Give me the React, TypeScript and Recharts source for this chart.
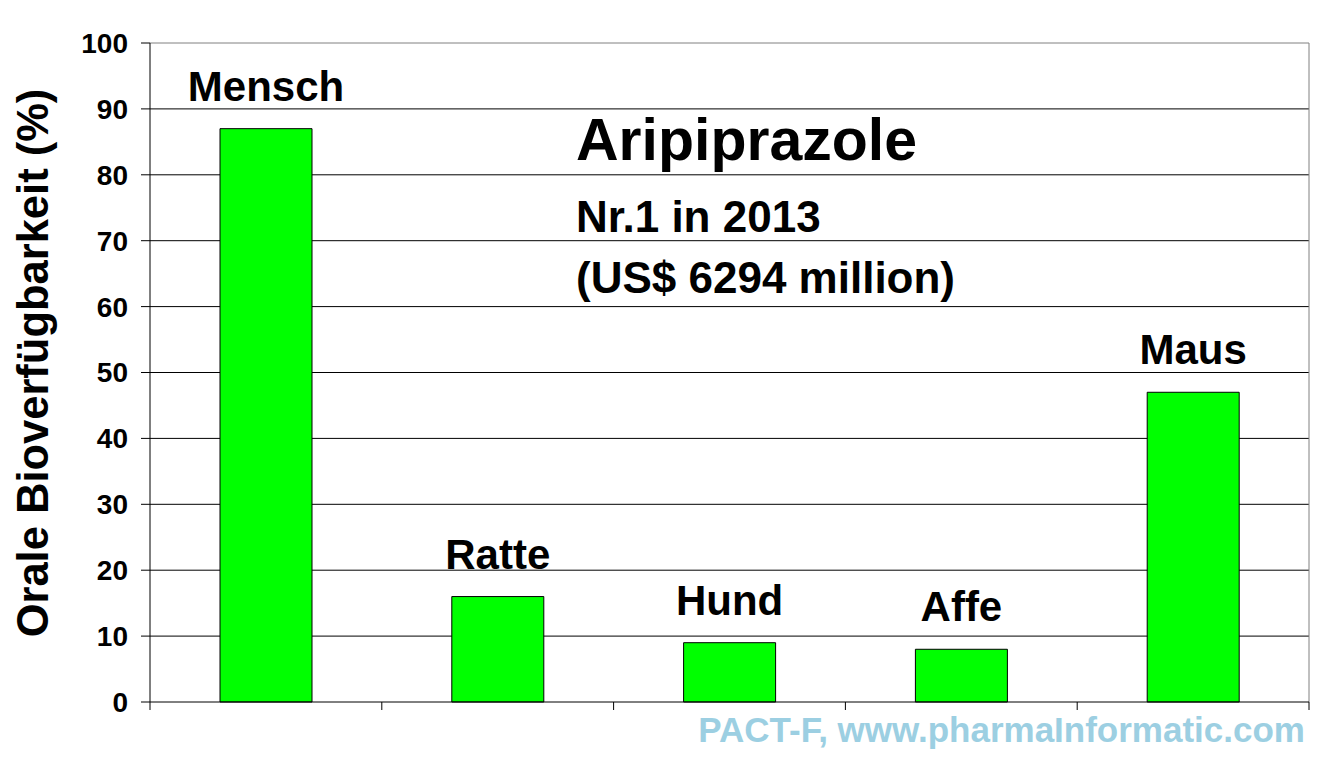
import { BarChart, Bar, XAxis, YAxis, CartesianGrid, LabelList, ReferenceLine } from "recharts";

const species = ["Mensch", "Ratte", "Hund", "Affe", "Maus"];
const bioavailability = [87, 16, 9, 8, 47];
const yTicks = [0, 10, 20, 30, 40, 50, 60, 70, 80, 90, 100];
const gridValues = [10, 20, 30, 40, 50, 60, 70, 80, 90];
const boundaryTicks = [0, 1, 2, 3, 4, 5];

const FONT = "'Liberation Sans', Arial, sans-serif";

export default function App() {
  // pos = centre of each category on the 0..5 boundary axis
  const data = species.map((name, i) => ({ name, value: bioavailability[i], pos: i + 0.5 }));

  return (
    <div style={{ position: "absolute", left: 0, top: 0, width: 1340, height: 758, background: "#fff" }}>
      <BarChart
        width={1340}
        height={758}
        data={data}
        margin={{ top: 43, right: 31, bottom: 0, left: 0 }}
        barCategoryGap={0}
      >
        <CartesianGrid xAxisId="num" vertical={false} stroke="#000" horizontalValues={gridValues} />
        <XAxis
          xAxisId="num"
          dataKey="pos"
          type="number"
          domain={[0, 5]}
          ticks={boundaryTicks}
          allowDataOverflow
          height={56}
          axisLine={{ stroke: "#000" }}
          tickLine={{ stroke: "#000" }}
          tickSize={8}
          tickFormatter={() => ""}
        />
        <XAxis xAxisId="cat" dataKey="name" hide height={0} />
        <YAxis
          width={150}
          domain={[0, 100]}
          ticks={yTicks}
          interval={0}
          axisLine={{ stroke: "#000" }}
          tickLine={{ stroke: "#000" }}
          tickSize={9}
          tickMargin={13}
          tick={{ fill: "#000", fontSize: 28, fontWeight: "bold", fontFamily: FONT }}
        />
        <ReferenceLine xAxisId="num" y={100} stroke="#808080" />
        <ReferenceLine xAxisId="num" x={5} stroke="#808080" />
        <Bar
          xAxisId="cat"
          dataKey="value"
          barSize={92}
          fill="#00ff00"
          stroke="#000"
          strokeWidth={1}
          isAnimationActive={false}
        >
          <LabelList
            dataKey="name"
            position="top"
            offset={28}
            style={{ fill: "#000", fontSize: 42, fontWeight: "bold", fontFamily: FONT }}
          />
        </Bar>
      </BarChart>
      <svg
        width={1340}
        height={758}
        style={{ position: "absolute", left: 0, top: 0, pointerEvents: "none" }}
      >
        <text
          transform="translate(48, 363) rotate(-90)"
          textAnchor="middle"
          fontFamily={FONT}
          fontWeight="bold"
          fontSize={43.5}
          fill="#000"
        >
          Orale Bioverfügbarkeit (%)
        </text>
        <text x={576} y={160} fontFamily={FONT} fontWeight="bold" fontSize={59} fill="#000">
          Aripiprazole
        </text>
        <text x={576} y={232} fontFamily={FONT} fontWeight="bold" fontSize={44} fill="#000">
          Nr.1 in 2013
        </text>
        <text x={576} y={293} fontFamily={FONT} fontWeight="bold" fontSize={44} fill="#000">
          (US$ 6294 million)
        </text>
        <text x={1305} y={742} textAnchor="end" fontFamily={FONT} fontWeight="bold" fontSize={35} fill="#9ccfe2">
          PACT-F, www.pharmaInformatic.com
        </text>
      </svg>
    </div>
  );
}
